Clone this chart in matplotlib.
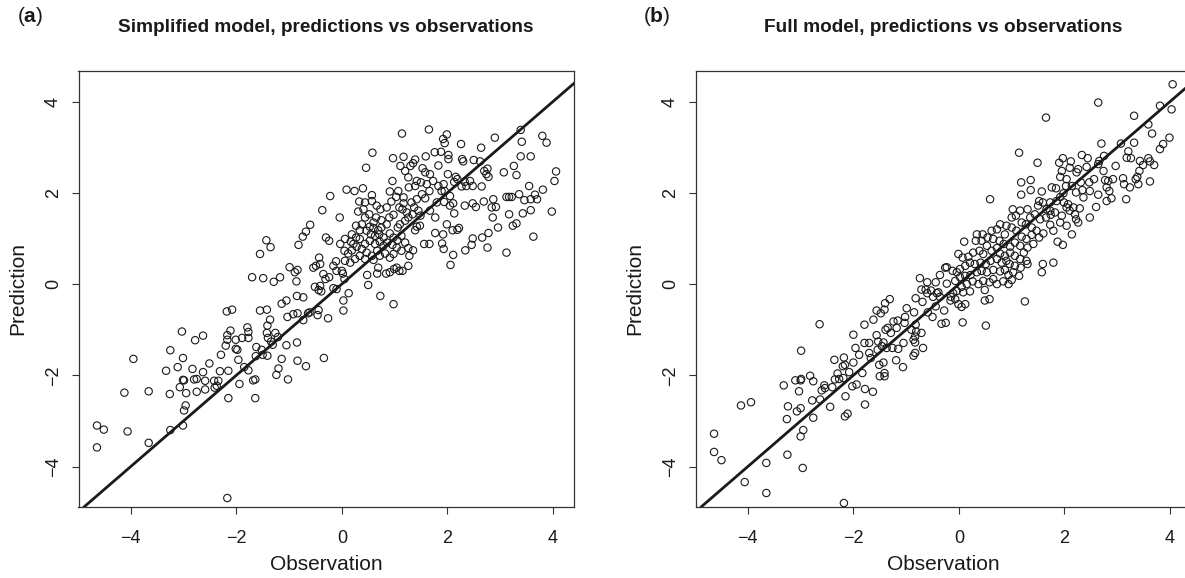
import matplotlib
matplotlib.use("Agg")
import matplotlib.pyplot as plt
import numpy as np

plt.rcParams['font.family'] = ['Liberation Sans', 'DejaVu Sans']
plt.rcParams['mathtext.fontset'] = 'custom'
plt.rcParams['mathtext.rm'] = 'Liberation Sans'
plt.rcParams['mathtext.bf'] = 'Liberation Sans:bold'

# ---- panel (a): simplified model ----
# lower-left part of the cloud
obs_a_low = [
    -1.55, -1.70, -1.49, -1.29, -1.17, -0.99, -0.89, -0.86, -1.14, -1.05,
    -0.85, -1.55, -1.42, -2.18, -2.08, -1.36, -1.03, -0.92, -0.84, -1.41,
    -1.79, -1.77, -2.11, -2.17, -2.17, -2.20, -2.01, -1.89, -1.77, -2.01,
    -1.62, -1.52, -1.42, -1.40, -1.34, -1.26, -1.21, -1.31, -1.41, -1.50,
    -1.05, -0.85, -1.14, -0.84, -1.20, -1.24, -1.02, -1.63, -1.96, -1.85,
    -1.77, -1.68, -1.94, -1.64, -2.15, -2.29, -2.31, -2.15, -2.42, -2.34,
    -2.37, -2.51, -2.63, -2.59, -2.59, -2.75, -2.80, -2.83, -2.99, -3.07,
    -2.95, -2.75, -2.96, -2.99, -3.01, -3.11, -3.01, -3.25, -3.33, -3.26,
    -3.25, -3.03, -2.78, -2.63, -3.66, -3.66, -3.95, -4.12, -4.06, -4.64,
    -4.51, -4.64, -2.17, -1.64, -2.41, -1.98, -3.01, -1.43, -1.35, -0.68,
    -0.34]
pred_a_low = [
    0.66, 0.15, 0.13, 0.05, 0.15, 0.37, 0.26, 0.06, -0.43, -0.36,
    -0.26, -0.58, -0.56, -0.60, -0.56, -0.78, -0.72, -0.66, -0.64, -0.91,
    -0.95, -1.05, -1.02, -1.12, -1.22, -1.35, -1.22, -1.18, -1.18, -1.42,
    -1.38, -1.44, -1.07, -1.18, -1.26, -1.07, -1.16, -1.33, -1.57, -1.55,
    -1.34, -1.28, -1.64, -1.68, -1.85, -1.99, -2.09, -1.58, -1.66, -1.82,
    -1.89, -2.11, -2.19, -2.50, -2.50, -1.55, -1.91, -1.90, -2.12, -2.12,
    -2.23, -1.74, -1.93, -2.12, -2.31, -2.08, -2.09, -1.86, -2.11, -2.26,
    -2.39, -2.36, -2.66, -2.77, -3.10, -1.82, -1.62, -1.45, -1.90, -2.41,
    -3.20, -1.04, -1.23, -1.13, -2.35, -3.48, -1.64, -2.38, -3.23, -3.10,
    -3.19, -3.58, -4.69, -2.09, -2.27, -1.44, -2.10, 0.96, 0.81, -1.80,
    -1.62]

# central / upper part
obs_a_mid = [
    1.14, 1.65, 1.99, 1.92, 1.95, 2.26, 2.64, 0.58, 0.46, 0.97,
    1.17, 1.39, 1.35, 1.30, 1.11, 1.20, 1.26, 1.59, 1.76, 1.88,
    2.02, 2.02, 1.83, 1.53, 1.58, 1.67, 2.28, 2.30, 2.50, 2.62,
    2.70, 2.74, 2.78, 2.76, 2.01, 2.16, 2.19, 2.13, 2.27, 2.43,
    2.48, 2.65, 2.69, 2.48, 2.54, 2.33, 2.13, 2.05, 1.94, 2.11,
    1.99, 2.10, 2.19, 2.22, 1.92, 1.77, 1.90, 1.93, 2.11, 2.06,
    2.34, 2.46, 2.48, 1.77, 1.67, 1.56, 1.66, 2.33, 2.78, 2.66,
    2.76, -0.22, -0.37, -0.04, -0.60, -0.68, -0.74, -0.82, -0.30, -0.24,
    0.09, 0.24, 0.40, 0.57, 0.57, 0.31, 0.41, 0.52, 0.65, 0.73,
    0.85, 0.94, 0.96, 0.91, 1.07, 1.03, 1.17, 1.27, 1.39, 1.42,
    1.50, 1.61, 1.73, 1.83, 1.89, 1.52, 1.58, 1.42, 1.32, 1.15,
    1.23, 1.34, 1.45, 1.49, 1.26, 1.20, 1.42, 1.39, 1.48, 1.10,
    1.06, 0.98, 0.90, 0.85, 0.75, 0.69, 0.60, 0.53, 0.47, 0.55,
    0.63, 0.71, 0.79, 0.91, 0.98, 1.05, 1.13, 1.20, 1.26, 1.35,
    1.28, 1.13, 1.04, 0.96, 0.86, 0.79, 0.72, 0.63, 0.53, 0.44,
    0.34, 0.27, 0.22, 0.17, 0.06, -0.03, 0.05, 0.12, 0.19, 0.28,
    0.38, 0.47, 0.57, 0.67, 0.72, 0.82, 0.91, 0.98, 1.04, 0.91,
    0.84, 0.99, 1.09, 1.15, 1.26, 0.69, 0.67, 0.48, 0.50, 0.73,
    0.98, 0.60, 0.44, 0.34, 0.25, 0.16, 0.06, 0.00, 0.02, 0.05,
    -0.11, -0.16, -0.10, -0.24, -0.31, -0.35, -0.43, -0.41, -0.49, -0.54,
    -0.41, -0.39, -0.44, -0.51, -0.73, -0.84, -0.10, -0.16, 0.13, 0.03,
    0.03, -0.26, -0.44, -0.46, -0.61, -0.64, -0.73, 0.27, 0.34, 0.19,
    0.38, 0.44, 0.60, 0.75, 0.44, 0.33, 0.66, 1.17, 1.09, 1.37,
    1.66, 1.95, 2.05, 1.93, 1.80, 2.36]
pred_a_mid = [
    3.30, 3.39, 3.28, 3.18, 3.09, 3.07, 2.99, 2.88, 2.55, 2.76,
    2.79, 2.73, 2.65, 2.59, 2.59, 2.48, 2.34, 2.80, 2.89, 2.90,
    2.83, 2.74, 2.60, 2.54, 2.45, 2.41, 2.74, 2.69, 2.72, 2.69,
    2.48, 2.41, 2.35, 2.53, 2.41, 2.35, 2.30, 2.24, 2.14, 2.26,
    2.15, 2.14, 1.81, 1.77, 1.69, 1.72, 1.55, 1.72, 1.80, 1.77,
    1.31, 1.18, 1.19, 1.23, 1.09, 1.12, 0.89, 0.77, 0.64, 0.42,
    0.74, 0.86, 1.00, 1.46, 1.61, 0.88, 0.88, 2.24, 1.12, 1.02,
    0.80, 1.93, 1.62, 1.46, 1.30, 1.15, 1.04, 0.86, 1.02, 0.95,
    2.07, 2.04, 2.10, 1.95, 1.82, 1.59, 1.64, 1.53, 1.46, 1.64,
    1.68, 1.81, 2.26, 2.03, 2.04, 1.91, 1.90, 2.12, 2.15, 2.26,
    2.23, 2.19, 2.26, 2.15, 2.04, 1.97, 1.88, 1.86, 1.79, 1.64,
    1.57, 1.53, 1.61, 1.50, 1.46, 1.39, 1.26, 1.18, 1.28, 1.31,
    1.24, 1.52, 1.46, 1.31, 1.24, 1.18, 1.23, 1.26, 1.17, 1.09,
    1.06, 1.09, 1.02, 1.11, 1.02, 0.96, 1.06, 0.91, 0.79, 0.74,
    0.62, 0.73, 0.80, 0.86, 0.91, 0.84, 0.93, 0.88, 0.95, 0.88,
    0.99, 1.02, 0.88, 0.93, 0.99, 0.88, 0.73, 0.67, 0.74, 0.82,
    0.77, 0.69, 0.62, 0.73, 0.62, 0.67, 0.58, 0.66, 0.36, 0.26,
    0.23, 0.33, 0.29, 0.29, 0.40, 0.36, 0.23, 0.20, -0.02, -0.26,
    -0.44, 0.53, 0.55, 0.62, 0.55, 0.47, 0.51, 0.29, 0.23, 0.11,
    0.50, 0.40, 0.29, 0.15, 0.11, 0.22, 0.58, 0.44, 0.40, 0.36,
    -0.04, -0.16, -0.13, -0.06, -0.29, 0.31, -0.11, -0.09, -0.20, -0.36,
    -0.58, -0.75, -0.57, -0.68, -0.62, -0.64, -0.79, 1.28, 1.18, 1.09,
    1.31, 1.46, 1.35, 1.40, 1.79, 1.81, 1.72, 1.77, 1.68, 1.68,
    2.04, 2.04, 1.93, 2.19, 1.79, 2.15]

# right-hand edge
obs_a_right = [
    2.90, 3.39, 3.41, 3.80, 3.88, 3.39, 3.58, 3.26, 3.31, 3.07,
    4.06, 4.03, 3.55, 3.81, 3.66, 3.70, 3.58, 3.46, 3.36, 3.12,
    3.17, 3.22, 2.87, 2.92, 2.84, 2.86, 3.17, 3.43, 3.58, 3.98,
    2.96, 3.24, 3.31, 3.63, 3.12]
pred_a_right = [
    3.21, 3.38, 3.12, 3.25, 3.10, 2.80, 2.80, 2.59, 2.39, 2.45,
    2.47, 2.26, 2.15, 2.07, 1.96, 1.86, 1.86, 1.84, 1.97, 1.91,
    1.91, 1.91, 1.86, 1.69, 1.68, 1.46, 1.53, 1.55, 1.62, 1.59,
    1.24, 1.28, 1.33, 1.04, 0.69]

# ---- panel (b): full model ----
obs_b_low = [
    -4.64, -4.64, -4.50, -4.13, -3.94, -4.06, -3.65, -3.65, -3.25, -2.96,
    -3.00, -2.95, -3.26, -3.24, -3.07, -3.00, -3.32, -3.10, -2.99, -3.00,
    -3.03, -2.99, -2.82, -2.76, -2.78, -2.76, -2.63, -2.60, -2.55, -2.54,
    -2.64, -2.44, -2.40, -2.35, -2.36, -2.30, -2.27, -2.19, -2.20, -2.18,
    -2.16, -2.08, -2.15, -2.16, -2.11, -2.02, -1.94, -2.00, -2.00, -1.96,
    -1.89, -1.83, -1.78, -1.78, -1.63, -1.79, -1.70, -1.70, -1.79, -1.62,
    -1.56, -1.53, -1.54, -1.67, -1.51, -1.43, -1.50, -1.41, -1.41, -1.56,
    -1.48, -1.41, -1.40, -1.31, -1.39, -1.35, -1.29, -1.24, -1.16, -1.18,
    -1.26, -1.37, -1.46, -1.43, -1.15, -1.19, -1.05, -1.06, -1.02, -0.99,
    -1.03, -0.90, -0.85, -0.82, -0.81, -0.83, -0.86, -0.83, -0.71, -0.86,
    -0.83, -0.68, -0.82, -0.69, -0.74, -0.60, -0.71, -0.63, -0.53, -0.44,
    -0.36, -0.42, -0.59, -0.50, -0.44, -0.49, -0.39, -0.36, -0.28, -0.33,
    -0.25, -0.23, -0.26, -0.23, -0.15, -0.60, -2.18]
pred_b_low = [
    -3.28, -3.68, -3.86, -2.66, -2.59, -4.34, -3.92, -4.58, -3.74, -4.03,
    -3.34, -3.20, -2.96, -2.68, -2.79, -2.72, -2.22, -2.11, -2.08, -2.11,
    -2.35, -1.46, -2.01, -2.13, -2.55, -2.93, -2.53, -2.33, -2.22, -2.28,
    -0.88, -2.69, -2.26, -2.09, -1.66, -1.96, -2.08, -2.06, -1.80, -1.61,
    -1.77, -1.93, -2.46, -2.90, -2.84, -2.24, -2.20, -1.72, -1.11, -1.40,
    -1.55, -1.95, -2.30, -2.64, -2.36, -1.29, -1.29, -1.51, -0.89, -0.78,
    -1.12, -1.26, -1.44, -1.62, -1.77, -1.72, -2.02, -2.02, -1.95, -0.58,
    -0.64, -0.56, -0.42, -0.33, -1.00, -0.96, -1.07, -0.82, -0.80, -0.96,
    -1.40, -1.40, -1.36, -1.28, -1.42, -1.67, -1.29, -1.82, -0.72, -0.53,
    -0.85, -1.00, -0.62, -0.89, -1.04, -1.15, -1.22, -1.28, -1.07, -1.57,
    -1.51, -1.40, -0.31, -0.39, 0.13, 0.04, -0.12, -0.12, -0.14, 0.04,
    0.20, -0.20, -0.62, -0.72, -0.49, -0.28, -0.18, -0.28, -0.58, -0.87,
    -0.85, 0.01, 0.36, 0.37, -0.28, -0.20, -4.80]

obs_b_high = [
    4.05, 2.64, 1.65, 3.32, 3.81, 4.03, 3.59, 3.66, 3.99, 3.87,
    3.81, 2.70, 3.07, 3.32, 1.14, 1.49, 1.90, 1.97, 2.12, 2.33,
    2.44, 2.42, 2.26, 2.23, 2.10, 2.64, 2.75, 2.74, 2.66, 2.97,
    3.18, 3.26, 3.21, 3.43, 3.49, 3.59, 3.62, 3.70, 3.42, 3.38,
    3.35, 3.40, 3.62, 3.11, 3.13, 3.24, 2.92, 2.83, 2.77, 2.80,
    2.85, 2.89, 2.80, 3.17, 2.64, 2.60, 2.56, 2.47, 2.48, 2.48,
    2.36, 2.34, 2.31, 2.22, 2.14, 2.04, 2.03, 1.98, 1.92, 1.95,
    1.84, 1.76, 1.73, 1.57, 1.36, 1.18, 1.36, 1.18, 0.59, 1.52,
    1.59, 1.50, 1.66, 1.73, 1.85, 1.92, 1.99, 2.04, 2.10, 2.20,
    2.22, 2.26, 2.17, 2.29, 2.07, 1.95, 1.82, 1.74, 1.65, 1.54,
    1.44, 1.35, 1.30, 1.16, 1.02, 1.00, 1.08, 1.19, 1.27, 1.38,
    1.47, 1.60, 1.52, 1.73, 1.79, 1.92, 2.04, 2.14, 1.87, 1.97,
    1.79, 1.59, 1.57, 1.25, 0.90, 1.00, 0.78, 0.72, 0.62, 0.87,
    1.09, 1.19, 1.28, 1.38, 1.41, 1.30, 1.23, 1.16, 1.06, 0.97,
    0.85, 0.77, 0.65, 0.54, 0.45, 0.34, 0.32, 0.43, 0.10, -0.01,
    0.07, 0.18, 0.27, 0.39, 0.46, 0.53, 0.62, 0.72, 0.78, 0.87,
    0.97, 1.06, 1.16, 1.28, 1.30, 1.17, 1.06, 0.96, 0.90, 0.81,
    0.72, 0.60, 0.51, 0.41, 0.30, 0.21, 0.12, 0.02, -0.04, -0.12,
    -0.07, 0.02, 0.12, 0.22, 0.34, 0.43, 0.53, 0.65, 0.78, 0.87,
    0.94, 1.03, 1.14, 1.00, 0.94, 0.84, 0.72, 0.65, 0.58, 0.46,
    0.37, 0.26, 0.15, 0.05, -0.04, -0.11, 0.08, 0.21, 0.49, 0.58,
    0.49, -0.16, -0.01, 0.12, 0.05, 0.07, 0.51, -0.07]
pred_b_high = [
    4.38, 3.98, 3.65, 3.69, 3.91, 3.83, 3.50, 3.30, 3.21, 3.07,
    2.96, 3.08, 3.08, 3.10, 2.88, 2.66, 2.66, 2.76, 2.69, 2.83,
    2.76, 2.57, 2.52, 2.45, 2.55, 2.63, 2.81, 2.48, 2.70, 2.59,
    2.77, 2.76, 2.91, 2.70, 2.61, 2.76, 2.69, 2.61, 2.48, 2.35,
    2.30, 2.19, 2.25, 2.32, 2.19, 2.12, 2.30, 2.26, 2.28, 2.12,
    2.04, 1.88, 1.82, 1.86, 1.96, 1.69, 2.30, 2.23, 2.04, 1.46,
    1.90, 2.06, 2.23, 2.01, 2.15, 2.30, 2.15, 1.99, 2.35, 2.48,
    2.10, 2.12, 1.79, 2.03, 2.28, 2.23, 2.06, 1.96, 1.86, 1.82,
    1.79, 1.72, 1.64, 1.61, 1.82, 1.91, 1.79, 1.68, 1.61, 1.53,
    1.42, 1.35, 1.68, 1.66, 1.75, 1.50, 1.57, 1.52, 1.46, 1.42,
    1.53, 1.46, 1.64, 1.61, 1.64, 1.46, 1.50, 1.35, 1.31, 1.24,
    1.17, 1.11, 1.02, 1.30, 1.17, 1.35, 1.28, 1.09, 0.93, 0.86,
    0.47, 0.44, 0.26, -0.38, 1.28, 1.24, 1.31, 1.20, 1.17, 1.09,
    1.17, 1.04, 0.99, 1.08, 0.88, 0.80, 0.69, 0.84, 0.91, 0.82,
    0.88, 0.95, 0.99, 1.02, 1.09, 1.09, 0.95, 0.95, 0.93, 0.66,
    0.58, 0.60, 0.69, 0.73, 0.66, 0.84, 0.73, 0.79, 0.67, 0.62,
    0.69, 0.62, 0.55, 0.51, 0.44, 0.36, 0.40, 0.44, 0.51, 0.47,
    0.55, 0.51, 0.44, 0.47, 0.44, 0.47, 0.40, 0.33, 0.26, 0.29,
    0.07, 0.15, 0.18, 0.20, 0.26, 0.29, 0.26, 0.31, 0.28, 0.31,
    0.20, 0.26, 0.18, 0.09, 0.00, 0.06, 0.00, 0.11, 0.04, 0.07,
    0.00, 0.06, 0.00, -0.06, -0.15, -0.20, -0.18, -0.16, -0.13, -0.33,
    -0.36, -0.36, -0.44, -0.44, -0.50, -0.84, -0.91, -0.33]

ticks = [-4, -2, 0, 2, 4]
panel_tags = ['a', 'b']
titles = ['Simplified model, predictions vs observations',
          'Full model, predictions vs observations']

obs_a = obs_a_low + obs_a_mid + obs_a_right
pred_a = pred_a_low + pred_a_mid + pred_a_right
obs_b = obs_b_low + obs_b_high
pred_b = pred_b_low + pred_b_high

W, H = 1185, 578
fig = plt.figure(figsize=(W / 100, H / 100), dpi=100)
ink = '#1a1a1a'

# axes boxes in pixels (left, top, right, bottom); panel b runs past the right edge
boxes = [(78.5, 70.6, 574.0, 506.7), (695.6, 70.6, 1191.1, 506.7)]

for i, (obs, pred) in enumerate([(obs_a, pred_a), (obs_b, pred_b)]):
    l, t, r, b = boxes[i]
    ax = fig.add_axes([l / W, 1 - b / H, (r - l) / W, (b - t) / H])
    ax.scatter(obs, pred, s=28, facecolors='none', edgecolors=ink, linewidths=0.8, zorder=2)
    ax.axline((0, 0), slope=1, color=ink, lw=2.0, zorder=3)   # 1:1 line
    ax.set_xlim(-4.99, 4.40)
    ax.set_ylim(-4.88, 4.68)
    ax.set_xticks(ticks)
    ax.set_yticks(ticks)
    ax.tick_params(direction='out', length=5, width=0.8, colors='#333333',
                   labelcolor=ink, labelsize=13)
    ax.tick_params(axis='x', pad=12)
    ax.tick_params(axis='y', pad=7)
    for lab in ax.get_yticklabels():
        lab.set_rotation(90)
        lab.set_va('center')
    for s in ax.spines.values():
        s.set_linewidth(0.9)
        s.set_color('#333333')
    ax.set_xlabel('Observation', fontsize=15, color=ink)
    ax.set_ylabel('Prediction', fontsize=15, color=ink)
    ax.xaxis.set_label_coords(0.5, -(565 - b) / (b - t))
    ax.xaxis.label.set_va('center')
    ax.yaxis.set_label_coords(-(60.5) / (r - l), 0.5)
    ax.yaxis.label.set_va('center')

    cx = (l + r) / 2
    fig.text(cx / W, 1 - 28 / H, titles[i], ha='center', va='center',
             fontsize=13.7, fontweight='bold', color=ink)
    fig.text((30 + 627 * i) / W, 1 - 17 / H, r'($\mathbf{%s}$)' % panel_tags[i],
             ha='center', va='center', fontsize=15, color=ink)

fig.savefig('out.png', dpi=100)
